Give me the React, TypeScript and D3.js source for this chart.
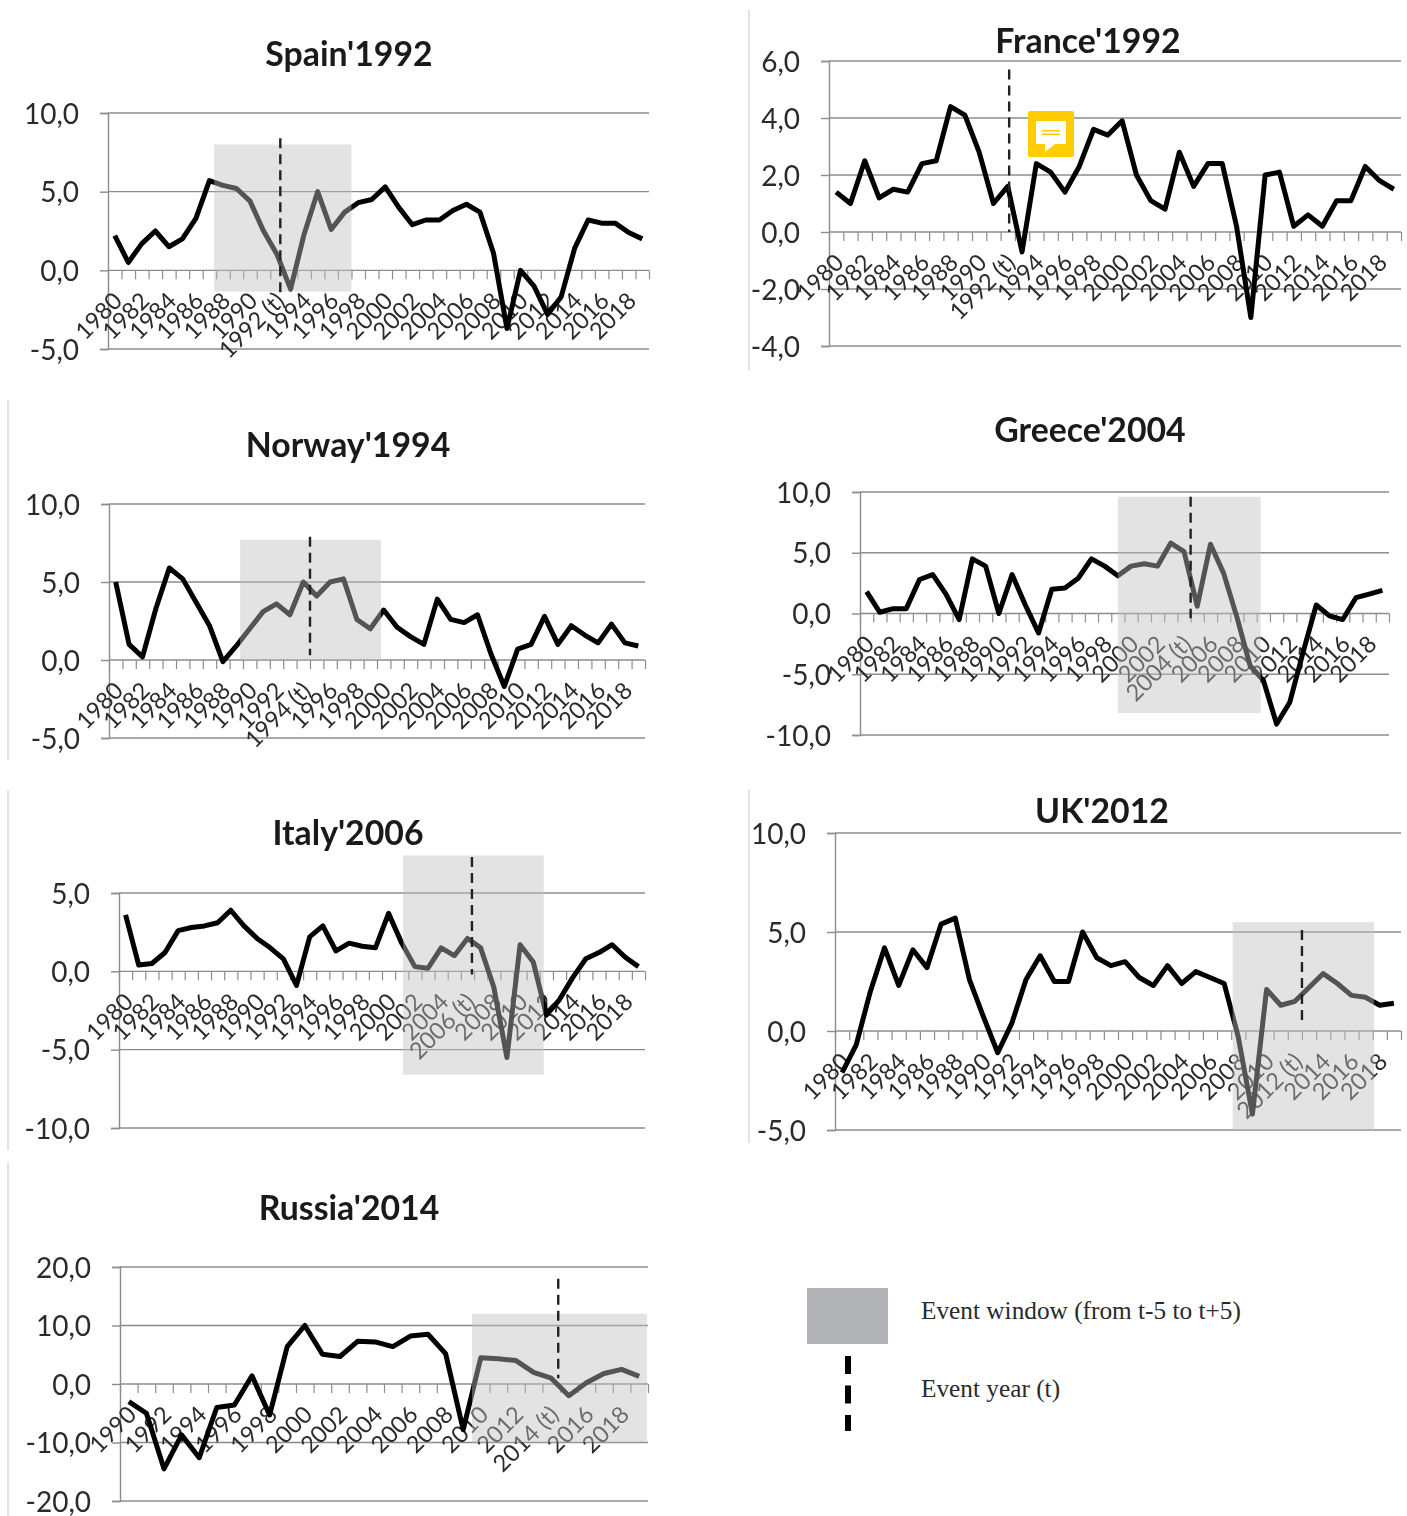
import React, { useRef, useEffect } from 'react';
import * as d3 from 'd3';

const spainValues = [2.2, 0.5, 1.7, 2.5, 1.5, 2.0, 3.3, 5.7, 5.4, 5.2, 4.4, 2.5, 1.0, -1.2, 2.3, 5.0, 2.6, 3.7, 4.3, 4.5, 5.3, 4.0, 2.9, 3.2, 3.2, 3.8, 4.2, 3.7, 1.1, -3.7, 0.0, -1.0, -2.8, -1.7, 1.4, 3.2, 3.0, 3.0, 2.4, 2.0];
const franceValues = [1.4, 1.0, 2.5, 1.2, 1.5, 1.4, 2.4, 2.5, 4.4, 4.1, 2.8, 1.0, 1.6, -0.7, 2.4, 2.1, 1.4, 2.3, 3.6, 3.4, 3.9, 2.0, 1.1, 0.8, 2.8, 1.6, 2.4, 2.4, 0.2, -3.0, 2.0, 2.1, 0.2, 0.6, 0.2, 1.1, 1.1, 2.3, 1.8, 1.5];
const norwayValues = [5.0, 1.0, 0.2, 3.3, 5.9, 5.2, 3.7, 2.2, -0.1, 0.9, 2.0, 3.1, 3.6, 2.9, 5.0, 4.1, 5.0, 5.2, 2.6, 2.0, 3.2, 2.1, 1.5, 1.0, 3.9, 2.6, 2.4, 2.9, 0.4, -1.7, 0.7, 1.0, 2.8, 1.0, 2.2, 1.6, 1.1, 2.3, 1.1, 0.9];
const greeceValues = [1.8, 0.1, 0.4, 0.4, 2.8, 3.2, 1.6, -0.5, 4.5, 3.9, 0.0, 3.2, 0.7, -1.6, 2.0, 2.1, 2.9, 4.5, 3.9, 3.1, 3.9, 4.1, 3.9, 5.8, 5.1, 0.6, 5.7, 3.3, -0.3, -4.3, -5.5, -9.1, -7.3, -3.2, 0.7, -0.2, -0.5, 1.3, 1.6, 1.9];
const italyValues = [3.6, 0.4, 0.5, 1.2, 2.6, 2.8, 2.9, 3.1, 3.9, 2.9, 2.1, 1.5, 0.8, -0.9, 2.2, 2.9, 1.3, 1.8, 1.6, 1.5, 3.7, 1.8, 0.3, 0.2, 1.5, 1.0, 2.1, 1.5, -1.0, -5.5, 1.7, 0.6, -2.8, -1.8, -0.4, 0.8, 1.2, 1.7, 0.9, 0.3];
const ukValues = [-2.1, -0.7, 2.0, 4.2, 2.3, 4.1, 3.2, 5.4, 5.7, 2.6, 0.7, -1.1, 0.4, 2.6, 3.8, 2.5, 2.5, 5.0, 3.7, 3.3, 3.5, 2.7, 2.3, 3.3, 2.4, 3.0, 2.7, 2.4, -0.3, -4.2, 2.1, 1.3, 1.5, 2.2, 2.9, 2.4, 1.8, 1.7, 1.3, 1.4];
const russiaValues = [-3.0, -5.0, -14.5, -8.7, -12.6, -4.0, -3.6, 1.4, -5.3, 6.4, 10.0, 5.1, 4.7, 7.3, 7.2, 6.4, 8.2, 8.5, 5.2, -7.8, 4.5, 4.3, 4.0, 2.0, 1.0, -2.0, 0.2, 1.8, 2.5, 1.3];

const spainTicks = [-5, 0, 5, 10];
const franceTicks = [-4, -2, 0, 2, 4, 6];
const italyTicks = [-10, -5, 0, 5];
const greeceTicks = [-10, -5, 0, 5, 10];
const russiaTicks = [-20, -10, 0, 10, 20];

const legendLabels = ['Event window (from t-5 to t+5)', 'Event year (t)'];

type Panel = {
  title: string; values: number[]; firstYear: number; eventYear: number; yTicks: number[];
  left: number; right: number; top: number; bottom: number; // plot box in page px
  titleX: number; titleY: number;
  window?: [number, number, number, number]; // year from, year to, value top, value bottom
  dash: [number, number, number]; // year, value top, value bottom
  frame?: [number, number, number];
};

const panels: Panel[] = [
  { title: "Spain'1992", values: spainValues, firstYear: 1980, eventYear: 1992, yTicks: spainTicks,
    left: 108, right: 649, top: 113, bottom: 349, titleX: 349, titleY: 66,
    window: [1987.35, 1997.5, 8, -1.35], dash: [1992.24, 8.4, -1.4] },
  { title: "France'1992", values: franceValues, firstYear: 1980, eventYear: 1992, yTicks: franceTicks,
    left: 829, right: 1401, top: 61, bottom: 346, titleX: 1088, titleY: 53,
    dash: [1992.1, 5.7, 0], frame: [749, 10, 370] },
  { title: "Norway'1994", values: norwayValues, firstYear: 1980, eventYear: 1994, yTicks: spainTicks,
    left: 109, right: 645, top: 504, bottom: 738, titleX: 348, titleY: 457,
    window: [1989.28, 1999.8, 7.7, 0], dash: [1994.5, 7.9, 0.3], frame: [8, 400, 760] },
  { title: "Greece'2004", values: greeceValues, firstYear: 1980, eventYear: 2004, yTicks: greeceTicks,
    left: 860, right: 1389, top: 492, bottom: 735, titleX: 1090, titleY: 442,
    window: [1999, 2009.8, 9.6, -8.2], dash: [2004.5, 9.6, -0.4] },
  { title: "Italy'2006", values: italyValues, firstYear: 1980, eventYear: 2006, yTicks: italyTicks,
    left: 119, right: 645, top: 893, bottom: 1128, titleX: 348, titleY: 845,
    window: [2001.1, 2011.8, 7.4, -6.6], dash: [2006.34, 7.3, -0.2], frame: [8, 790, 1150] },
  { title: "UK'2012", values: ukValues, firstYear: 1980, eventYear: 2012, yTicks: spainTicks,
    left: 835, right: 1401, top: 833, bottom: 1130, titleX: 1102, titleY: 823,
    window: [2007.6, 2017.6, 5.5, -5], dash: [2012.5, 5.1, 0.3], frame: [749, 790, 1143] },
  { title: "Russia'2014", values: russiaValues, firstYear: 1990, eventYear: 2014, yTicks: russiaTicks,
    left: 120, right: 648, top: 1267, bottom: 1501, titleX: 349, titleY: 1220,
    window: [2009.5, 2019.44, 12, -10], dash: [2014.4, 18, 1], frame: [8, 1163, 1516] },
];

const fmt = (v: number) => v.toFixed(1).replace('.', ',');

const App: React.FC = () => {
  const svgRef = useRef<SVGSVGElement | null>(null);

  useEffect(() => {
    if (!svgRef.current) return;
    const svg = d3.select(svgRef.current);
    svg.selectAll('*').remove();

    panels.forEach(p => {
      const years = p.values.map((_, i) => p.firstYear + i);
      const x = d3.scaleLinear()
        .domain([p.firstYear - 0.5, years[years.length - 1] + 0.5])
        .range([p.left, p.right]);
      const yMin = d3.min(p.yTicks)!;
      const yMax = d3.max(p.yTicks)!;
      const y = d3.scaleLinear().domain([yMin, yMax]).range([p.bottom, p.top]);
      // the source is a slightly soft raster
      const g = svg.append('g').style('filter', 'blur(0.45px)');

      if (p.frame) {
        g.append('line').attr('x1', p.frame[0]).attr('x2', p.frame[0])
          .attr('y1', p.frame[1]).attr('y2', p.frame[2])
          .attr('stroke', '#c4c4c4').attr('stroke-width', 1);
      }

      g.append('text').attr('x', p.titleX).attr('y', p.titleY)
        .attr('text-anchor', 'middle')
        .attr('font-family', 'Lato').attr('font-weight', 700).attr('font-size', 33.8)
        .attr('fill', '#1a1a1a').text(p.title);

      // value axis with gridlines
      const yAxis = g.append('g').attr('transform', `translate(${p.left},0)`)
        .call(d3.axisLeft(y).tickValues(p.yTicks).tickSize(8).tickPadding(21).tickFormat(d => fmt(+d)));
      yAxis.select('.domain').attr('stroke', '#8c8c8c').attr('stroke-width', 1.4);
      yAxis.selectAll('.tick line').attr('stroke', '#8c8c8c').attr('stroke-width', 1.4);
      yAxis.selectAll('text').attr('font-family', 'Lato').attr('font-size', 28).attr('fill', '#2b2b2b').attr('dy', '0.36em');
      g.append('g').selectAll('line').data(p.yTicks).enter().append('line')
        .attr('x1', p.left).attr('x2', p.right)
        .attr('y1', d => y(d)).attr('y2', d => y(d))
        .attr('stroke', '#8c8c8c').attr('stroke-width', 1.4);

      // category axis sits on zero, ticks at the band edges
      const edges = [...years.map(v => v - 0.5), years[years.length - 1] + 0.5];
      const xAxis = g.append('g').attr('transform', `translate(0,${y(0)})`)
        .call(d3.axisBottom(x).tickValues(edges).tickSize(9).tickFormat(() => ''));
      xAxis.select('.domain').remove();
      xAxis.selectAll('.tick line').attr('stroke', '#8c8c8c').attr('stroke-width', 1.2);

      g.append('g').selectAll('text')
        .data(years.filter(v => (v - p.firstYear) % 2 === 0))
        .enter().append('text')
        .attr('transform', d => `translate(${x(d) + 9},${y(0) + 32}) rotate(-45)`)
        .attr('text-anchor', 'end')
        .attr('font-family', 'Lato').attr('font-size', 23.5).attr('fill', '#2b2b2b')
        .text(d => (d === p.eventYear ? `${d} (t)` : `${d}`));

      const line = d3.line<number>().x((_, i) => x(years[i])).y(d => y(d));
      g.append('path').datum(p.values).attr('d', line)
        .attr('fill', 'none').attr('stroke', '#000').attr('stroke-width', 5)
        .attr('stroke-linejoin', 'round');

      if (p.window) {
        const [x0, x1, vTop, vBottom] = p.window;
        g.append('rect').attr('x', x(x0)).attr('width', x(x1) - x(x0))
          .attr('y', y(vTop)).attr('height', y(vBottom) - y(vTop))
          .attr('fill', '#c0c0c0').attr('fill-opacity', 0.44);
      }

      g.append('line').attr('x1', x(p.dash[0])).attr('x2', x(p.dash[0]))
        .attr('y1', y(p.dash[1])).attr('y2', y(p.dash[2]))
        .attr('stroke', '#222').attr('stroke-width', 2.4).attr('stroke-dasharray', '10,6');
    });

    // comment marker left on the France chart
    const note = svg.append('g').attr('transform', 'translate(1028,111)');
    note.append('rect').attr('width', 46).attr('height', 46).attr('rx', 2).attr('fill', '#ffcc00');
    note.append('path').attr('d', 'M8 10H38V33H27L17 41V33H8Z').attr('fill', '#fff');
    note.append('path').attr('d', 'M14 19.7H32M14 23.3H32').attr('stroke', '#ffcc00').attr('stroke-width', 1.6);

    // legend
    const legend = svg.append('g');
    legend.append('rect').attr('x', 807).attr('y', 1288).attr('width', 81).attr('height', 56).attr('fill', '#b1b2b6');
    legend.append('line').attr('x1', 848).attr('x2', 848).attr('y1', 1356).attr('y2', 1431)
      .attr('stroke', '#000').attr('stroke-width', 6).attr('stroke-dasharray', '18,11.5');
    legend.selectAll('text').data(legendLabels).enter().append('text')
      .attr('x', 921).attr('y', (_, i) => (i === 0 ? 1319 : 1397))
      .attr('font-family', 'Liberation Serif').attr('font-size', 25.3).attr('fill', '#2a2a2a')
      .text(d => d);
  }, []);

  return (
    <svg ref={svgRef} width={1407} height={1516}
      style={{ position: 'absolute', left: 0, top: 0, background: '#fff' }} />
  );
};

export default App;
